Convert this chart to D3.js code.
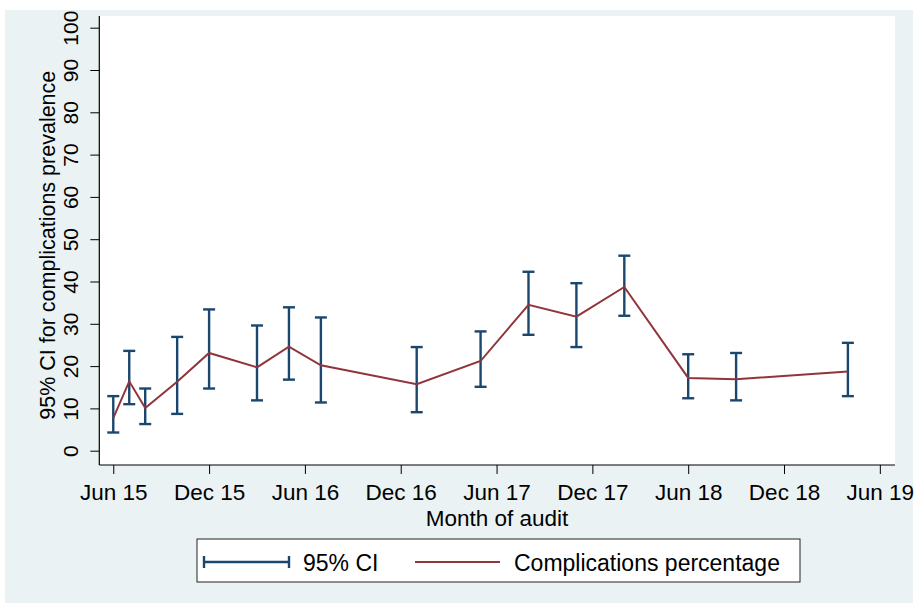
<!DOCTYPE html>
<html>
<head>
<meta charset="utf-8">
<script src="https://cdn.jsdelivr.net/npm/d3@7"></script>
<style>
  body { margin: 0; background: #ffffff; }
  text { font-family: "Liberation Sans", Arial, sans-serif; fill: #000; }
</style>
</head>
<body>
<svg id="chart" width="917" height="606"></svg>
<script>
// ---- Data ----
const months = ["2015-06","2015-07","2015-08","2015-10","2015-12","2016-03","2016-05","2016-07",
                "2017-01","2017-05","2017-08","2017-11","2018-02","2018-06","2018-09","2019-04"];
const pct   = [7.7, 16.4, 10.1, 16.3, 23.1, 19.7, 24.6, 20.2, 15.7, 21.2, 34.5, 31.7, 38.7, 17.2, 16.9, 18.7];
const ciLow = [4.3, 11.0, 6.3, 8.7, 14.7, 11.9, 16.8, 11.4, 9.1, 15.1, 27.4, 24.5, 31.9, 12.4, 11.9, 12.9];
const ciHigh= [12.9, 23.6, 14.7, 26.9, 33.4, 29.6, 33.9, 31.5, 24.5, 28.2, 42.3, 39.6, 46.1, 22.8, 23.1, 25.5];
const xTickMonths = ["2015-06","2015-12","2016-06","2016-12","2017-06","2017-12","2018-06","2018-12","2019-06"];
const xTickLabels = ["Jun 15","Dec 15","Jun 16","Dec 16","Jun 17","Dec 17","Jun 18","Dec 18","Jun 19"];
const yTicks = [0,10,20,30,40,50,60,70,80,90,100];

// monthly index (Stata %tm style, evenly spaced months)
const mIdx = s => { const [y, m] = s.split("-").map(Number); return (y - 2015) * 12 + (m - 6); };

const svg = d3.select("#chart");
const colCI = "#1a476f", colLine = "#90353b";

// background
svg.append("rect").attr("x", 5).attr("y", 10).attr("width", 908).attr("height", 593).attr("fill", "#eaf2f3");

const plot = { left: 99.3, right: 895, top: 16, bottom: 465 };
svg.append("rect").attr("x", plot.left).attr("y", plot.top)
   .attr("width", plot.right - plot.left).attr("height", plot.bottom - plot.top).attr("fill", "#fff");

const x = d3.scaleLinear().domain([-0.875, 48.95]).range([plot.left, plot.right]);
const y = d3.scaleLinear().domain([0, 100]).range([450.7, 27.7]);

// axes
const yAxis = svg.append("g").attr("transform", `translate(${plot.left},0)`)
  .call(d3.axisLeft(y).tickValues(yTicks).tickSize(9).tickFormat(d3.format("d")));
yAxis.select(".domain").remove();
yAxis.selectAll(".tick line").attr("stroke", "#000").attr("stroke-width", 1);
yAxis.selectAll(".tick text")
  .attr("x", null).attr("dy", null)
  .attr("transform", "translate(-21,0) rotate(-90)")
  .attr("text-anchor", "middle")
  .style("font-size", "21px").style("font-family", "Liberation Sans, Arial, sans-serif");

const xAxis = svg.append("g").attr("transform", `translate(0,${plot.bottom})`)
  .call(d3.axisBottom(x).tickValues(xTickMonths.map(mIdx)).tickSize(9)
        .tickFormat((d, i) => xTickLabels[i]));
xAxis.select(".domain").remove();
xAxis.selectAll(".tick line").attr("stroke", "#000").attr("stroke-width", 1);
xAxis.selectAll(".tick text").attr("y", 35).attr("dy", null)
  .style("font-size", "22.5px").style("font-family", "Liberation Sans, Arial, sans-serif");

// axis lines
svg.append("line").attr("x1", plot.left).attr("x2", plot.left).attr("y1", plot.top).attr("y2", plot.bottom)
   .attr("stroke", "#000").attr("stroke-width", 1.2);
svg.append("line").attr("x1", plot.left).attr("x2", plot.right).attr("y1", plot.bottom).attr("y2", plot.bottom)
   .attr("stroke", "#000").attr("stroke-width", 1.2);

// axis titles
svg.append("text").attr("transform", `translate(55,${(y(100)+y(0))/2 + 6}) rotate(-90)`)
   .attr("text-anchor", "middle").style("font-size", "21.5px")
   .text("95% CI for complications prevalence");
svg.append("text").attr("x", 497).attr("y", 526).attr("text-anchor", "middle").style("font-size", "22.5px")
   .text("Month of audit");

// CI bars
const cap = 6;
const ci = svg.append("g").attr("stroke", colCI).attr("stroke-width", 2.4).attr("fill", "none");
months.forEach((m, i) => {
  const cx = x(mIdx(m));
  ci.append("line").attr("x1", cx).attr("x2", cx).attr("y1", y(ciLow[i])).attr("y2", y(ciHigh[i]));
  ci.append("line").attr("x1", cx - cap).attr("x2", cx + cap).attr("y1", y(ciLow[i])).attr("y2", y(ciLow[i]));
  ci.append("line").attr("x1", cx - cap).attr("x2", cx + cap).attr("y1", y(ciHigh[i])).attr("y2", y(ciHigh[i]));
});

// line
const line = d3.line().x((d, i) => x(mIdx(months[i]))).y(d => y(d));
svg.append("path").datum(pct).attr("d", line).attr("fill", "none")
   .attr("stroke", colLine).attr("stroke-width", 2);

// legend
const lg = svg.append("g");
lg.append("rect").attr("x", 197).attr("y", 539).attr("width", 603).attr("height", 43)
  .attr("fill", "#fff").attr("stroke", "#222").attr("stroke-width", 1);
lg.append("line").attr("x1", 203).attr("x2", 290).attr("y1", 562).attr("y2", 562).attr("stroke", colCI).attr("stroke-width", 2.4);
lg.append("line").attr("x1", 204).attr("x2", 204).attr("y1", 556).attr("y2", 568).attr("stroke", colCI).attr("stroke-width", 2.4);
lg.append("line").attr("x1", 289).attr("x2", 289).attr("y1", 556).attr("y2", 568).attr("stroke", colCI).attr("stroke-width", 2.4);
lg.append("text").attr("x", 303).attr("y", 571).style("font-size", "23px").text("95% CI");
lg.append("line").attr("x1", 415).attr("x2", 500).attr("y1", 562).attr("y2", 562).attr("stroke", colLine).attr("stroke-width", 2);
lg.append("text").attr("x", 514).attr("y", 571).style("font-size", "23px").text("Complications percentage");
</script>
</body>
</html>
